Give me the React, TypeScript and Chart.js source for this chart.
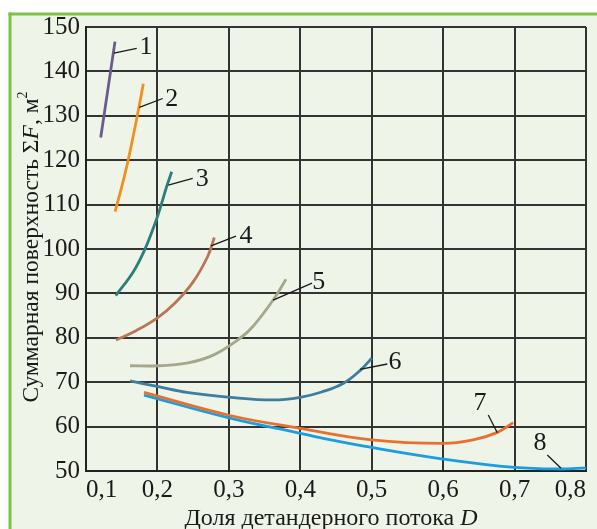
import { useEffect, useRef } from 'react';
import { Chart, registerables } from 'chart.js';

Chart.register(...registerables);

// ---- data (D = доля детандерного потока, F = суммарная поверхность, м²) ----
const D1 = [0.1206, 0.1406];
const F1 = [125.1, 146.7];

const D2 = [0.1406, 0.15, 0.159, 0.1718, 0.1803];
const F2 = [108.4, 114.0, 120.0, 130.0, 137.2];

const D3 = [0.1416, 0.1663, 0.1826, 0.1974, 0.205, 0.2126, 0.22];
const F3 = [89.5, 94.9, 100.0, 106.1, 109.8, 113.9, 117.4];

const D4 = [0.142, 0.17, 0.2, 0.225, 0.25, 0.27, 0.2797];
const F4 = [79.5, 81.6, 84.5, 87.9, 92.6, 98.2, 102.6];

const D5 = [0.1616, 0.2012, 0.241, 0.2782, 0.3156, 0.334, 0.362, 0.38];
const F5 = [73.7, 73.7, 74.3, 76.1, 79.9, 82.6, 88.5, 93.2];

const D6 = [0.1616, 0.2012, 0.241, 0.3016, 0.362, 0.4, 0.43, 0.46, 0.4836, 0.5];
const F6 = [70.3, 69.0, 67.7, 66.6, 66.0, 66.6, 67.8, 69.7, 72.6, 75.4];

const D7 = [0.1812, 0.3016, 0.4, 0.5, 0.6, 0.642, 0.676, 0.698];
const F7 = [67.7, 62.5, 59.6, 57.0, 56.2, 57.0, 58.7, 60.9];

const D8 = [0.1812, 0.3016, 0.4, 0.4276, 0.5, 0.6, 0.7, 0.764, 0.8];
const F8 = [67.1, 61.9, 58.5, 57.5, 55.3, 52.7, 50.8, 50.45, 50.7];

const CURVE_NAMES = ['1', '2', '3', '4', '5', '6', '7', '8'];
const CURVE_COLORS = ['#6b5b8c', '#f0901e', '#2e7d7b', '#b87557', '#a5a78a', '#3d7e9e', '#e8702e', '#1a9ee0'];

// curve number labels and their leader lines (data coordinates)
const LABEL_D = [0.184, 0.22, 0.2628, 0.324, 0.426, 0.5326, 0.6516, 0.7356];
const LABEL_F = [145.7, 133.9, 115.9, 103.2, 92.8, 74.8, 65.6, 56.6];
const LEADER_FROM_D = [0.139, 0.1746, 0.2152, 0.275, 0.362, 0.4836, 0.6758, 0.765];
const LEADER_FROM_F = [144.1, 131.9, 114.4, 100.7, 88.5, 72.9, 58.6, 50.6];
const LEADER_TO_D = [0.171, 0.2074, 0.2494, 0.31, 0.4164, 0.5218, 0.6632, 0.7458];
const LEADER_TO_F = [145.2, 133.9, 115.9, 102.9, 92.3, 74.1, 62.6, 53.6];

const X_MIN = 0.1;
const X_MAX = 0.8;
const Y_MIN = 50;
const Y_MAX = 150;

const SERIES_D = [D1, D2, D3, D4, D5, D6, D7, D8];
const SERIES_F = [F1, F2, F3, F4, F5, F6, F7, F8];

const SERIF = '"Liberation Serif", "DejaVu Serif", serif';

type Part = { text: string; italic?: boolean; sup?: boolean };

function drawParts(ctx: CanvasRenderingContext2D, parts: Part[], size: number, cx: number, cy: number) {
  const fontFor = (p: Part) => `${p.italic ? 'italic ' : ''}${p.sup ? Math.round(size * 0.6) : size}px ${SERIF}`;
  let total = 0;
  const widths = parts.map((p) => {
    ctx.font = fontFor(p);
    const w = ctx.measureText(p.text).width;
    total += w;
    return w;
  });
  let x = cx - total / 2;
  ctx.textBaseline = 'alphabetic';
  ctx.textAlign = 'left';
  parts.forEach((p, i) => {
    ctx.font = fontFor(p);
    const y = cy + size * 0.33 - (p.sup ? size * 0.45 : 0);
    ctx.fillText(p.text, x, y);
    x += widths[i];
  });
}

const panelPlugin = {
  id: 'panel',
  beforeDraw(chart: any) {
    const { ctx, width, height } = chart;
    ctx.save();
    ctx.fillStyle = '#ffffff';
    ctx.fillRect(0, 0, width, height);
    ctx.fillStyle = '#eef4e8';
    ctx.fillRect(10, 14, width, height);
    ctx.fillStyle = '#7dc242';
    ctx.fillRect(8.5, 12.5, 3, height);
    ctx.fillRect(8.5, 12.5, width, 3);
    ctx.restore();
  },
};

const annotPlugin = {
  id: 'annot',
  afterDraw(chart: any) {
    const { ctx } = chart;
    const xs = chart.scales.x;
    const ys = chart.scales.y;
    ctx.save();
    ctx.strokeStyle = '#1a1a1a';
    ctx.lineWidth = 1.3;
    ctx.fillStyle = '#1a1a1a';
    CURVE_NAMES.forEach((name, i) => {
      ctx.beginPath();
      ctx.moveTo(xs.getPixelForValue(LEADER_FROM_D[i]), ys.getPixelForValue(LEADER_FROM_F[i]));
      ctx.lineTo(xs.getPixelForValue(LEADER_TO_D[i]), ys.getPixelForValue(LEADER_TO_F[i]));
      ctx.stroke();
      ctx.font = `26px ${SERIF}`;
      ctx.textAlign = 'center';
      ctx.textBaseline = 'middle';
      ctx.fillText(name, xs.getPixelForValue(LABEL_D[i]), ys.getPixelForValue(LABEL_F[i]) + 1);
    });
    // axis titles
    ctx.fillStyle = '#1a1a1a';
    drawParts(
      ctx,
      [{ text: 'Доля детандерного потока ' }, { text: 'D', italic: true }],
      24,
      331,
      517
    );
    ctx.save();
    ctx.translate(30, 247);
    ctx.rotate(-Math.PI / 2);
    drawParts(
      ctx,
      [
        { text: 'Суммарная поверхность Σ' },
        { text: 'F', italic: true },
        { text: ', м' },
        { text: '2', sup: true },
      ],
      23.5,
      0,
      0
    );
    ctx.restore();
    ctx.restore();
  },
};

export default function App() {
  const ref = useRef<HTMLCanvasElement | null>(null);

  useEffect(() => {
    document.body.style.margin = '0';
    const canvas = ref.current;
    if (!canvas) return;
    const datasets = CURVE_NAMES.map((name, i) => ({
      label: name,
      data: SERIES_D[i].map((d, j) => ({ x: d, y: SERIES_F[i][j] })),
      borderColor: CURVE_COLORS[i],
      backgroundColor: CURVE_COLORS[i],
      borderWidth: 2.8,
      pointRadius: 0,
      showLine: true,
      fill: false,
      tension: 0.4,
    }));
    const tickFont = { family: SERIF, size: 25 };
    const chart = new Chart(canvas, {
      type: 'scatter',
      data: { datasets },
      options: {
        animation: false,
        responsive: false,
        maintainAspectRatio: false,
        layout: { padding: { top: 27, right: 11, left: 0, bottom: 0 } },
        plugins: { legend: { display: false }, tooltip: { enabled: false } },
        scales: {
          x: {
            type: 'linear',
            min: X_MIN,
            max: X_MAX,
            ticks: {
              stepSize: 0.1,
              font: tickFont,
              color: '#1a1a1a',
              padding: 4,
              maxRotation: 0,
              autoSkip: false,
              align: 'inner',
              callback: (v: any) => Number(v).toFixed(1).replace('.', ','),
            },
            grid: { color: '#333333', lineWidth: 2, drawTicks: false },
            border: { color: '#222222', width: 2 },
            afterFit: (s: any) => {
              s.height = 58;
            },
          },
          y: {
            min: Y_MIN,
            max: Y_MAX,
            ticks: {
              stepSize: 10,
              font: tickFont,
              color: '#1a1a1a',
              padding: 6,
            },
            grid: { color: '#333333', lineWidth: 2, drawTicks: false },
            border: { color: '#222222', width: 2 },
            afterFit: (s: any) => {
              s.width = 86;
            },
          },
        },
      },
      plugins: [panelPlugin, annotPlugin],
    });
    return () => chart.destroy();
  }, []);

  return (
    <div style={{ position: 'absolute', left: 0, top: 0, width: 597, height: 529 }}>
      <canvas ref={ref} width={597} height={529} style={{ display: 'block', width: 597, height: 529 }} />
    </div>
  );
}
